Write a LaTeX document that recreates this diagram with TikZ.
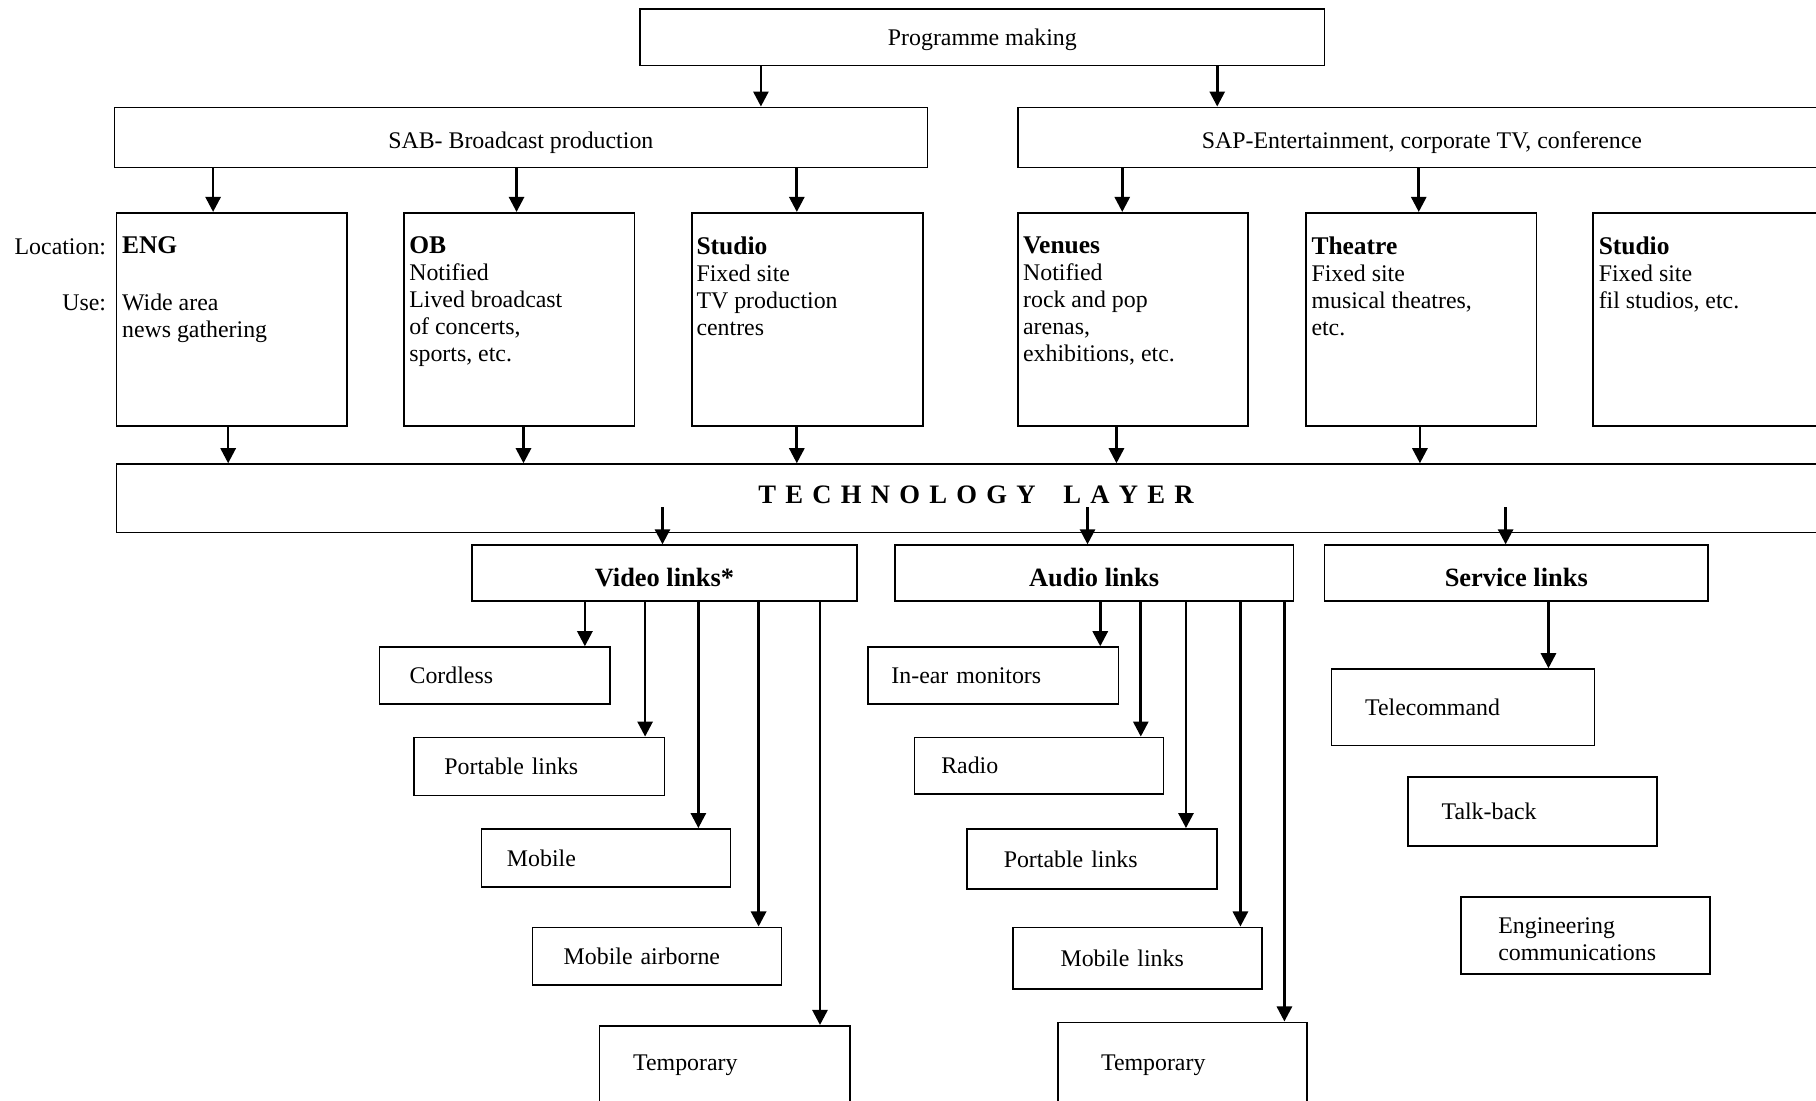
\documentclass[tikz,border=0pt]{standalone}
\usepackage{fontspec}
\setmainfont{Liberation Serif}
\usetikzlibrary{arrows.meta}
\tikzset{
	box/.style={draw=black, line width=0.7pt, inner sep=0pt, anchor=north west},
	plain/.style={box, font=\fontsize{10.3pt}{12pt}\selectfont},
	head/.style={box, text height=11.3pt, text depth=0pt, font=\fontsize{11.4pt}{13pt}\selectfont\bfseries},
	item/.style={box, align=left, font=\fontsize{10.3pt}{11.65pt}\selectfont},
	loctxt/.style={anchor=north west, inner sep=0pt, align=left, font=\fontsize{10.3pt}{11.65pt}\selectfont},
	side/.style={anchor=base east, inner sep=0pt, font=\fontsize{10.3pt}{12pt}\selectfont},
	arr/.style={draw=black, line width=1.15pt, -{Triangle[length=6.5pt,width=6.5pt]}},
}
\newcommand{\ttl}[1]{{\fontsize{11pt}{11.65pt}\selectfont\bfseries #1}}
\begin{document}
\begin{tikzpicture}[x=0.5pt,y=-0.5pt]
	\useasboundingbox (0,0) rectangle (1568,950);
	\clip (0,0) rectangle (1568,950);
	\node[plain, minimum width=295.5pt, minimum height=24.5pt, text height=6.8pt, text depth=0pt] (prog) at (552,7) {Programme making};
	\node[plain, minimum width=351pt, minimum height=26pt, text height=9.8pt, text depth=0pt] (sab) at (98,92) {SAB- Broadcast production};
	\node[plain, minimum width=349pt, minimum height=26pt, text height=9.8pt, text depth=0pt] (sap) at (878,92) {SAP-Entertainment, corporate TV, conference};
	\node[box, minimum width=99.5pt, minimum height=92pt] (eng) at (100,183) {};
	\node[box, minimum width=99.5pt, minimum height=92pt] (ob) at (348,183) {};
	\node[box, minimum width=99.5pt, minimum height=92pt] (stu) at (597,183) {};
	\node[box, minimum width=99.5pt, minimum height=92pt] (ven) at (878,183) {};
	\node[box, minimum width=99.5pt, minimum height=92pt] (the) at (1127,183) {};
	\node[box, minimum width=99.5pt, minimum height=92pt] (fil) at (1375,183) {};
	\node[side] (loclbl) at (92,219.4) {Location:};
	\node[side] (uselbl) at (92,268.5) {Use:};
	\node[loctxt] (engt) at ([xshift=2.5pt,yshift=-10.65pt]eng.north west) {\ttl{ENG}\\[12.65pt]Wide area\\news gathering};
	\node[loctxt] (obt) at ([xshift=2.5pt,yshift=-10.65pt]ob.north west) {\ttl{OB}\\Notified\\Lived broadcast\\of concerts,\\sports, etc.};
	\node[loctxt] (stut) at ([xshift=2pt,yshift=-10.65pt]stu.north west) {\ttl{Studio}\\Fixed site\\TV production\\centres};
	\node[loctxt] (vent) at ([xshift=2.5pt,yshift=-10.65pt]ven.north west) {\ttl{Venues}\\Notified\\rock and pop\\arenas,\\exhibitions, etc.};
	\node[loctxt] (thet) at ([xshift=2.5pt,yshift=-10.65pt]the.north west) {\ttl{Theatre}\\Fixed site\\musical theatres,\\etc.};
	\node[loctxt] (filt) at ([xshift=2.5pt,yshift=-10.65pt]fil.north west) {\ttl{Studio}\\Fixed site\\fil studios, etc.};
	\node[box, minimum width=742pt, minimum height=29.5pt, text height=7.6pt, text depth=3.5pt, font=\fontsize{11.5pt}{13pt}\selectfont\bfseries] (tech) at (100,400)
		{T\kern4pt E\kern4pt C\kern4pt H\kern4pt N\kern4pt O\kern4pt L\kern4pt O\kern4pt G\kern4pt Y\kern12pt L\kern4pt A\kern4pt Y\kern4pt E\kern4pt R};
	\coordinate (tv) at (572,438);
	\coordinate (ta) at (939,438);
	\coordinate (ts) at (1300,438);
	\node[head, minimum width=166pt, minimum height=24pt] (vid) at (407,470) {Video links*};
	\node[head, minimum width=172pt, minimum height=24pt] (aud) at (772,470) {Audio links};
	\node[head, minimum width=165.5pt, minimum height=24pt] (serv) at (1143,470) {Service links};
	\node[item, text width=73.5pt, inner xsep=13pt, minimum height=24.5pt] (cord) at (327,558) {Cordless};
	\node[item, text width=82pt, inner xsep=13pt, minimum height=25pt] (vpor) at (357,636) {Portable links};
	\node[item, text width=85.5pt, inner xsep=11pt, minimum height=25pt] (vmob) at (415,715) {Mobile};
	\node[item, text width=80.5pt, inner xsep=13.5pt, minimum height=25pt] (vair) at (459,800) {Mobile airborne};
	\node[item, text width=79pt, inner xsep=14.5pt, inner ysep=0pt, text height=19.4pt, text depth=20pt] (vtmp) at (517,885) {Temporary};
	\node[item, text width=88pt, inner xsep=10pt, minimum height=24.5pt] (ear) at (749,558) {In-ear monitors};
	\node[item, text width=84.5pt, inner xsep=11.5pt, minimum height=24.5pt] (rad) at (789,636) {Radio};
	\node[item, text width=76pt, inner xsep=16pt, minimum height=26pt] (apor) at (834,715) {Portable links};
	\node[item, text width=66.5pt, inner xsep=20.5pt, minimum height=26.5pt] (amob) at (874,800) {Mobile links};
	\node[item, text width=70.5pt, inner xsep=18.5pt, inner ysep=0pt, text height=20.9pt, text depth=20pt] (atmp) at (913,882) {Temporary};
	\node[item, text width=84.5pt, inner xsep=14.5pt, minimum height=33pt] (tel) at (1149,577) {Telecommand};
	\node[item, text width=78.5pt, inner xsep=14.5pt, minimum height=30pt] (talk) at (1215,670) {Talk-back};
	\node[item, text width=75.5pt, inner xsep=16pt, minimum height=33pt, text depth=8.8pt] (engc) at (1261,774) {Engineering\\communications};
	\draw[arr] (prog.south -| 657,0) -- (sab.north -| 657,0);
	\draw[arr] (prog.south -| 1051,0) -- (sap.north -| 1051,0);
	\draw[arr] (sab.south -| 184,0) -- (eng.north -| 184,0);
	\draw[arr] (sab.south -| 446,0) -- (ob.north -| 446,0);
	\draw[arr] (sab.south -| 688,0) -- (stu.north -| 688,0);
	\draw[arr] (sap.south -| 969,0) -- (ven.north -| 969,0);
	\draw[arr] (sap.south -| 1225,0) -- (the.north -| 1225,0);
	\draw[arr] (eng.south -| 197,0) -- (tech.north -| 197,0);
	\draw[arr] (ob.south -| 452,0) -- (tech.north -| 452,0);
	\draw[arr] (stu.south -| 688,0) -- (tech.north -| 688,0);
	\draw[arr] (ven.south -| 964,0) -- (tech.north -| 964,0);
	\draw[arr] (the.south -| 1226,0) -- (tech.north -| 1226,0);
	\draw[arr] (tv) -- (vid.north -| tv);
	\draw[arr] (ta) -- (aud.north -| ta);
	\draw[arr] (ts) -- (serv.north -| ts);
	\draw[arr] (vid.south -| 505,0) -- (cord.north -| 505,0);
	\draw[arr] (vid.south -| 557,0) -- (vpor.north -| 557,0);
	\draw[arr] (vid.south -| 603,0) -- (vmob.north -| 603,0);
	\draw[arr] (vid.south -| 655,0) -- (vair.north -| 655,0);
	\draw[arr] (vid.south -| 708,0) -- (vtmp.north -| 708,0);
	\draw[arr] (aud.south -| 950,0) -- (ear.north -| 950,0);
	\draw[arr] (aud.south -| 985,0) -- (rad.north -| 985,0);
	\draw[arr] (aud.south -| 1024,0) -- (apor.north -| 1024,0);
	\draw[arr] (aud.south -| 1071,0) -- (amob.north -| 1071,0);
	\draw[arr] (aud.south -| 1109,0) -- (atmp.north -| 1109,0);
	\draw[arr] (serv.south -| 1337,0) -- (tel.north -| 1337,0);
\end{tikzpicture}
\end{document}
